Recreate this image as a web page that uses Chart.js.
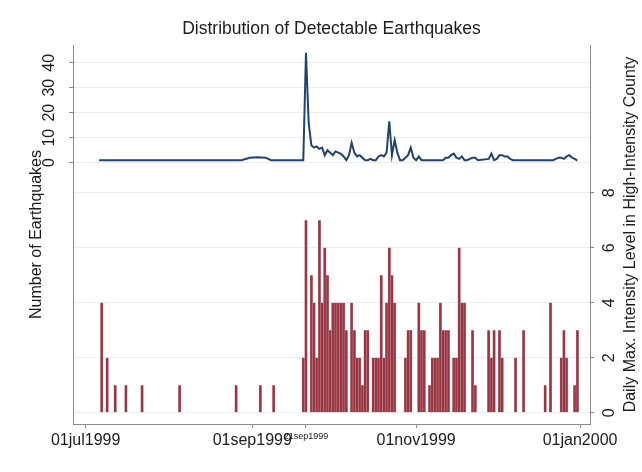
<!DOCTYPE html>
<html>
<head>
  <meta charset="UTF-8" />
  <title>Distribution of Detectable Earthquakes</title>
  <style>
    body { margin: 0; background: white; overflow: hidden; }
    #wrap { width: 642px; height: 472px; position: relative; }
  </style>
  <script src="https://cdn.jsdelivr.net/npm/chart.js"></script>
</head>
<body>
<div id="wrap"><canvas id="quakes"></canvas></div>

<script>
// x values are days since 01jul1999
const xTickDays = [0, 62, 82, 123, 184];
const xTickLabels = ["01jul1999", "01sep1999", "21sep1999", "01nov1999", "01jan2000"];
const leftTicks = [0, 10, 20, 30, 40];
const rightTicks = [0, 2, 4, 6, 8];

// number of earthquakes per day (line)
const lineDays = [5, 58, 61, 64, 67, 69, 81, 82, 83, 84, 85, 86, 87, 88, 89, 90, 91, 92, 93, 94,
  95, 96, 97, 98, 99, 100, 101, 102, 103, 104, 105, 106, 107, 108, 109, 110, 111, 112, 113, 114,
  115, 116, 117, 118, 119, 120, 121, 122, 123, 124, 125, 133, 134, 135, 136, 137, 138, 139, 140, 141,
  142, 143, 144, 145, 146, 150, 151, 152, 153, 154, 155, 156, 157, 158, 159, 174, 175, 176, 177, 178,
  179, 180, 181, 182, 183];
const quakeCounts = [1, 1, 2, 2.2, 2, 1, 1, 44, 16, 7, 6, 6.5, 5.5, 6, 3, 5, 4, 3, 4.5, 4,
  3.5, 2.5, 1, 3, 8, 4, 2.5, 3, 2, 1, 1, 1.5, 1, 1, 2.5, 3, 2.5, 4, 16.5, 3,
  9, 4, 1, 1, 2, 3, 6, 2, 1, 2.5, 1, 1, 2, 2, 3, 3.6, 2, 1.5, 2.5, 1,
  1, 1.5, 2, 2, 1, 1.5, 3.6, 1, 1.5, 3, 3, 2.5, 2.5, 1.5, 1, 1, 1.5, 2, 2, 1.5,
  2.5, 3, 2, 1.5, 0.8];

// daily max intensity in high-intensity county (bars)
const barDays = [6, 8, 11, 15, 21, 35, 56, 65, 70,
  81, 82, 84, 85, 86, 87, 88, 89, 90, 91, 92, 93, 94, 95, 96, 97, 99, 100, 101, 102, 103, 104, 105,
  107, 108, 109, 110, 111, 112, 113, 114, 115, 119, 120, 121, 124, 125, 126, 128, 129, 130, 131,
  132, 133, 134, 135, 137, 138, 139, 140, 141, 144, 145, 150, 151, 152, 154, 155, 160, 163, 171,
  173, 177, 178, 179, 182, 183];
const maxIntensity = [4, 2, 1, 1, 1, 1, 1, 1, 1,
  2, 7, 5, 4, 2, 7, 4, 6, 5, 3, 4, 4, 4, 4, 4, 3, 4, 3, 2, 2, 1, 3, 3,
  2, 2, 2, 5, 2, 4, 6, 5, 4, 2, 3, 3, 4, 3, 3, 1, 2, 2, 2,
  4, 3, 3, 3, 2, 2, 6, 4, 4, 3, 1, 3, 2, 3, 3, 2, 2, 3, 1,
  4, 2, 3, 2, 1, 3];

const chartTitle = "Distribution of Detectable Earthquakes";
const leftTitle = "Number of Earthquakes";
const rightTitle = "Daily Max. Intensity Level in High-Intensity County";

const family = '"Liberation Sans", Arial, sans-serif';

// title plus rotated y labels and titles (Stata style, reading bottom to top)
const axisText = {
  id: "axisText",
  afterDraw(chart) {
    const ctx = chart.ctx;
    const area = chart.chartArea;
    const midY = (area.top + area.bottom) / 2;
    const rot = (text, x, y) => {
      ctx.save();
      ctx.translate(x, y);
      ctx.rotate(-Math.PI / 2);
      ctx.fillText(text, 0, 0);
      ctx.restore();
    };
    ctx.save();
    ctx.fillStyle = "#1c1c1c";
    ctx.textAlign = "center";
    ctx.textBaseline = "middle";
    ctx.font = "17.5px " + family;
    ctx.fillText(chartTitle, (area.left + area.right) / 2, 29);
    ctx.font = "16px " + family;
    leftTicks.forEach(v => rot(String(v), 50, chart.scales.yL.getPixelForValue(v)));
    rightTicks.forEach(v => rot(String(v), 610, chart.scales.yR.getPixelForValue(v)));
    rot(leftTitle, 37, midY);
    rot(rightTitle, 631, midY);
    ctx.restore();
  }
};

new Chart(document.getElementById("quakes"), {
  data: {
    datasets: [{
      type: "line",
      data: lineDays.map((d, i) => ({ x: d, y: quakeCounts[i] })),
      yAxisID: "yL",
      borderColor: "#22436f",
      borderWidth: 2,
      pointRadius: 0,
      tension: 0
    }, {
      type: "bar",
      data: barDays.map((d, i) => ({ x: d, y: maxIntensity[i] })),
      yAxisID: "yR",
      backgroundColor: "#963844",
      borderColor: "rgba(198,120,130,0.75)",
      borderWidth: { left: 0.5, right: 0.5, top: 0, bottom: 0 },
      barPercentage: 1,
      categoryPercentage: 1
    }]
  },
  options: {
    responsive: true,
    maintainAspectRatio: false,
    animation: false,
    layout: { padding: { top: 45 } },
    plugins: {
      legend: { display: false },
      tooltip: { enabled: false },
      title: { display: false }
    },
    scales: {
      x: {
        type: "linear",
        offset: false,
        min: -4.7,
        max: 187.7,
        afterBuildTicks: s => { s.ticks = xTickDays.map(v => ({ value: v })); },
        afterFit: s => { s.height = 48; },
        grid: { offset: false, drawOnChartArea: false, drawTicks: true, tickLength: 4, tickColor: "#8c8c8c" },
        border: { display: true, color: "#8c8c8c" },
        ticks: {
          autoSkip: false,
          minRotation: 0,
          maxRotation: 0,
          padding: 3,
          color: "#1c1c1c",
          font: c => ({ family: family, size: c.tick && c.tick.value === 82 ? 9 : 16 }),
          callback: v => xTickLabels[xTickDays.indexOf(v)]
        }
      },
      yL: {
        type: "linear",
        position: "left",
        min: -104.6,
        max: 47.1,
        afterBuildTicks: s => { s.ticks = leftTicks.map(v => ({ value: v })); },
        afterFit: s => { s.width = 73; },
        ticks: { display: false },
        grid: { color: "#e8eef2", tickLength: 4, tickColor: "#8c8c8c" },
        border: { display: true, color: "#8c8c8c" }
      },
      yR: {
        type: "linear",
        position: "right",
        min: -0.41,
        max: 13.37,
        afterBuildTicks: s => { s.ticks = rightTicks.map(v => ({ value: v })); },
        afterFit: s => { s.width = 52; },
        ticks: { display: false },
        grid: { color: "#e8eef2", tickLength: 4, tickColor: "#8c8c8c" },
        border: { display: true, color: "#8c8c8c" }
      }
    }
  },
  plugins: [axisText]
});
</script>

</body>
</html>
